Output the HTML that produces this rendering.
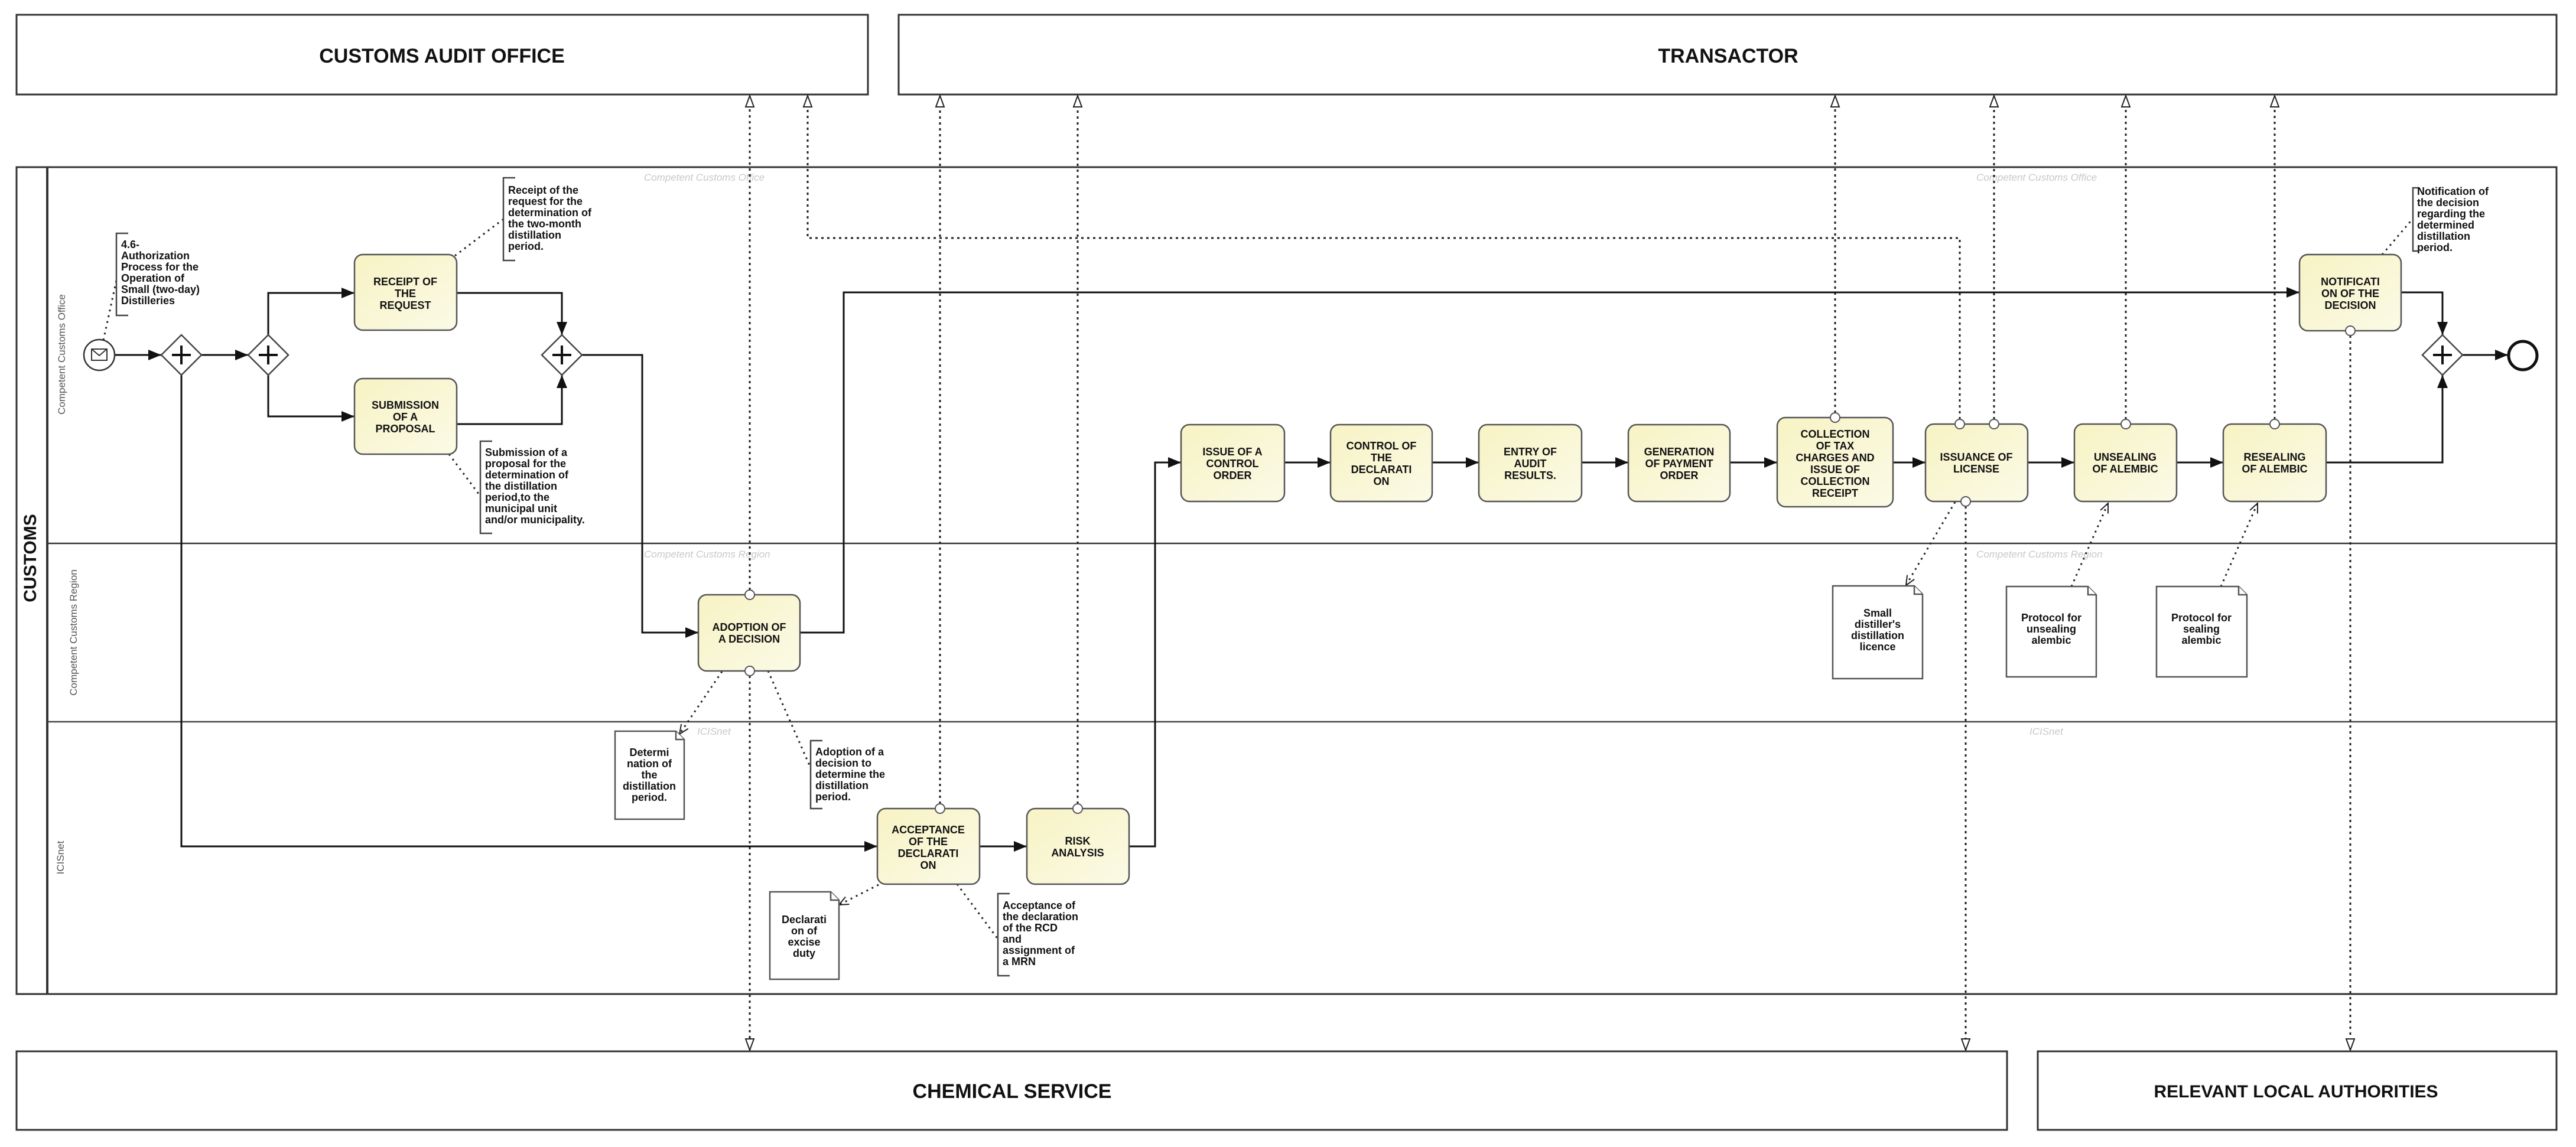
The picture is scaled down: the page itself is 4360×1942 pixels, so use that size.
<!DOCTYPE html>
<html><head><meta charset="utf-8"><style>
html,body{margin:0;padding:0;background:#fff;}
svg{display:block;}
text{font-family:"Liberation Sans",sans-serif;}
.t{font-size:18px;font-weight:bold;fill:#111;text-anchor:middle;}
.a{font-size:18px;font-weight:bold;fill:#111;}
.d{font-size:18px;font-weight:bold;fill:#111;text-anchor:middle;}
.h{font-size:34px;font-weight:bold;fill:#111;text-anchor:middle;}
.w{font-size:17px;font-style:italic;fill:#c8c8c8;}
.flow{stroke:#111;stroke-width:3;fill:none;}
.msg{stroke:#222;stroke-width:3;fill:none;stroke-dasharray:4 6;}
.asc{stroke:#222;stroke-width:3;fill:none;stroke-dasharray:3 7;}
.task{fill:url(#g);stroke:#555;stroke-width:2.5;}
.doc{fill:#fff;stroke:#555;stroke-width:2.5;}
</style></head><body>
<svg width="4360" height="1942" viewBox="0 0 4360 1942" xmlns="http://www.w3.org/2000/svg">
<defs>
<linearGradient id="g" x1="0" y1="0" x2="1" y2="1"><stop offset="0" stop-color="#f7f3c4"/><stop offset="1" stop-color="#fbfae6"/></linearGradient>
<marker id="ar" markerUnits="userSpaceOnUse" markerWidth="24" markerHeight="20" refX="22" refY="10" orient="auto"><path d="M0,1 L22,10 L0,19 Z" fill="#111"/></marker>
<marker id="mh" markerUnits="userSpaceOnUse" markerWidth="22" markerHeight="18" refX="20" refY="9" orient="auto"><path d="M1,2 L20,9 L1,16 Z" fill="#fff" stroke="#222" stroke-width="2"/></marker>
<marker id="oa" markerUnits="userSpaceOnUse" markerWidth="20" markerHeight="18" refX="18" refY="9" orient="auto"><path d="M2,2 L18,9 L2,16" fill="none" stroke="#222" stroke-width="2"/></marker>
</defs>

<!-- external pools -->
<rect x="28" y="25" width="1441" height="135" fill="#fff" stroke="#333" stroke-width="3"/>
<text class="h" x="748" y="106">CUSTOMS AUDIT OFFICE</text>
<rect x="1521" y="25" width="2806" height="135" fill="#fff" stroke="#333" stroke-width="3"/>
<text class="h" x="2925" y="106">TRANSACTOR</text>
<rect x="28" y="1780" width="3369" height="133" fill="#fff" stroke="#333" stroke-width="3"/>
<text class="h" x="1713" y="1859">CHEMICAL SERVICE</text>
<rect x="3449" y="1780" width="878" height="133" fill="#fff" stroke="#333" stroke-width="3"/>
<text class="h" x="3886" y="1858" style="font-size:30px">RELEVANT LOCAL AUTHORITIES</text>

<!-- main pool -->
<rect x="28" y="283" width="4299" height="1400" fill="#fff" stroke="#333" stroke-width="3"/>
<line x1="80" y1="283" x2="80" y2="1683" stroke="#333" stroke-width="4"/>
<line x1="80" y1="920" x2="4327" y2="920" stroke="#333" stroke-width="2.5"/>
<line x1="80" y1="1222" x2="4327" y2="1222" stroke="#444" stroke-width="2.5"/>
<text transform="translate(61,945) rotate(-90)" style="font-size:30px;font-weight:bold;fill:#111;text-anchor:middle">CUSTOMS</text>
<text transform="translate(110,600) rotate(-90)" style="font-size:17px;fill:#555;text-anchor:middle">Competent Customs Office</text>
<text transform="translate(130,1071) rotate(-90)" style="font-size:17px;fill:#555;text-anchor:middle">Competent Customs Region</text>
<text transform="translate(108,1452) rotate(-90)" style="font-size:17px;fill:#555;text-anchor:middle">ICISnet</text>
<text class="w" x="1090" y="306">Competent Customs Office</text>
<text class="w" x="3345" y="306">Competent Customs Office</text>
<text class="w" x="1090" y="944">Competent Customs Region</text>
<text class="w" x="3345" y="944">Competent Customs Region</text>
<text class="w" x="1180" y="1244">ICISnet</text>
<text class="w" x="3435" y="1244">ICISnet</text>

<!-- message flows -->
<path class="msg" d="M1269,999 V162" marker-end="url(#mh)"/>
<path class="msg" d="M1269,1144 V1778" marker-end="url(#mh)"/>
<path class="msg" d="M3317,710 V403 H1367 V162" marker-end="url(#mh)"/>
<path class="msg" d="M1591,1361 V162" marker-end="url(#mh)"/>
<path class="msg" d="M1824,1361 V162" marker-end="url(#mh)"/>
<path class="msg" d="M3106,699 V162" marker-end="url(#mh)"/>
<path class="msg" d="M3375,710 V162" marker-end="url(#mh)"/>
<path class="msg" d="M3598,710 V162" marker-end="url(#mh)"/>
<path class="msg" d="M3850,710 V162" marker-end="url(#mh)"/>
<path class="msg" d="M3327,857 V1778" marker-end="url(#mh)"/>
<path class="msg" d="M3978,568 V1778" marker-end="url(#mh)"/>

<!-- sequence flows -->
<path class="flow" d="M194,601 H273" marker-end="url(#ar)"/>
<path class="flow" d="M341,601 H420" marker-end="url(#ar)"/>
<path class="flow" d="M454,567 V496 H600" marker-end="url(#ar)"/>
<path class="flow" d="M454,635 V705 H600" marker-end="url(#ar)"/>
<path class="flow" d="M773,496 H951 V567" marker-end="url(#ar)"/>
<path class="flow" d="M773,718 H951 V635" marker-end="url(#ar)"/>
<path class="flow" d="M985,601 H1087 V1071 H1182" marker-end="url(#ar)"/>
<path class="flow" d="M1354,1071 H1428 V495 H3892" marker-end="url(#ar)"/>
<path class="flow" d="M307,635 V1433 H1485" marker-end="url(#ar)"/>
<path class="flow" d="M1658,1433 H1738" marker-end="url(#ar)"/>
<path class="flow" d="M1911,1433 H1955 V783 H1999" marker-end="url(#ar)"/>
<path class="flow" d="M2174,783 H2252" marker-end="url(#ar)"/>
<path class="flow" d="M2424,783 H2503" marker-end="url(#ar)"/>
<path class="flow" d="M2677,783 H2756" marker-end="url(#ar)"/>
<path class="flow" d="M2928,783 H3008" marker-end="url(#ar)"/>
<path class="flow" d="M3204,783 H3259" marker-end="url(#ar)"/>
<path class="flow" d="M3432,783 H3511" marker-end="url(#ar)"/>
<path class="flow" d="M3684,783 H3763" marker-end="url(#ar)"/>
<path class="flow" d="M3937,783 H4134 V635" marker-end="url(#ar)"/>
<path class="flow" d="M4064,495 H4134 V567" marker-end="url(#ar)"/>
<path class="flow" d="M4168,601 H4245" marker-end="url(#ar)"/>

<!-- associations -->
<path class="asc" d="M175,576 L198,470"/>
<path class="asc" d="M770,433 L852,371"/>
<path class="asc" d="M760,769 L813,840"/>
<path class="asc" d="M1300,1136 L1372,1300"/>
<path class="asc" d="M1620,1497 L1689,1590"/>
<path class="asc" d="M4032,431 L4084,370"/>
<path class="asc" d="M1222,1137 L1150,1243" marker-end="url(#oa)"/>
<path class="asc" d="M1487,1498 L1420,1532" marker-end="url(#oa)"/>
<path class="asc" d="M3309,850 L3226,991" marker-end="url(#oa)"/>
<path class="asc" d="M3506,993 L3568,852" marker-end="url(#oa)"/>
<path class="asc" d="M3759,993 L3821,852" marker-end="url(#oa)"/>

<!-- start / gateways / end -->
<circle cx="168" cy="601" r="26" fill="#fff" stroke="#333" stroke-width="2.5"/>
<rect x="155" y="591" width="26" height="19" fill="#fff" stroke="#333" stroke-width="2"/>
<path d="M155,591 L168,602 L181,591" fill="none" stroke="#333" stroke-width="2"/>
<g fill="#fff" stroke="#444" stroke-width="2.5">
<path d="M307,567 L341,601 L307,635 L273,601 Z"/>
<path d="M454,567 L488,601 L454,635 L420,601 Z"/>
<path d="M951,567 L985,601 L951,635 L917,601 Z"/>
<path d="M4134,567 L4168,601 L4134,635 L4100,601 Z"/>
</g>
<g stroke="#111" stroke-width="4">
<path d="M307,585 V617 M291,601 H323"/>
<path d="M454,585 V617 M438,601 H470"/>
<path d="M951,585 V617 M935,601 H967"/>
<path d="M4134,585 V617 M4118,601 H4150"/>
</g>
<circle cx="4270" cy="602" r="24" fill="#fff" stroke="#111" stroke-width="5"/>

<!-- tasks -->
<rect class="task" x="600" y="431" width="173" height="128" rx="14"/>
<text class="t" x="686" y="483">RECEIPT OF</text><text class="t" x="686" y="503">THE</text><text class="t" x="686" y="523">REQUEST</text>
<rect class="task" x="600" y="641" width="173" height="128" rx="14"/>
<text class="t" x="686" y="692">SUBMISSION</text><text class="t" x="686" y="712">OF A</text><text class="t" x="686" y="732">PROPOSAL</text>
<rect class="task" x="1182" y="1007" width="172" height="129" rx="14"/>
<text class="t" x="1268" y="1068">ADOPTION OF</text><text class="t" x="1268" y="1088">A DECISION</text>
<rect class="task" x="1485" y="1369" width="173" height="128" rx="14"/>
<text class="t" x="1571" y="1411">ACCEPTANCE</text><text class="t" x="1571" y="1431">OF THE</text><text class="t" x="1571" y="1451">DECLARATI</text><text class="t" x="1571" y="1471">ON</text>
<rect class="task" x="1738" y="1369" width="173" height="128" rx="14"/>
<text class="t" x="1824" y="1430">RISK</text><text class="t" x="1824" y="1450">ANALYSIS</text>
<rect class="task" x="1999" y="719" width="175" height="130" rx="14"/>
<text class="t" x="2086" y="771">ISSUE OF A</text><text class="t" x="2086" y="791">CONTROL</text><text class="t" x="2086" y="811">ORDER</text>
<rect class="task" x="2252" y="719" width="172" height="130" rx="14"/>
<text class="t" x="2338" y="761">CONTROL OF</text><text class="t" x="2338" y="781">THE</text><text class="t" x="2338" y="801">DECLARATI</text><text class="t" x="2338" y="821">ON</text>
<rect class="task" x="2503" y="719" width="174" height="130" rx="14"/>
<text class="t" x="2590" y="771">ENTRY OF</text><text class="t" x="2590" y="791">AUDIT</text><text class="t" x="2590" y="811">RESULTS.</text>
<rect class="task" x="2756" y="719" width="172" height="130" rx="14"/>
<text class="t" x="2842" y="771">GENERATION</text><text class="t" x="2842" y="791">OF PAYMENT</text><text class="t" x="2842" y="811">ORDER</text>
<rect class="task" x="3008" y="707" width="196" height="151" rx="14"/>
<text class="t" x="3106" y="741">COLLECTION</text><text class="t" x="3106" y="761">OF TAX</text><text class="t" x="3106" y="781">CHARGES AND</text><text class="t" x="3106" y="801">ISSUE OF</text><text class="t" x="3106" y="821">COLLECTION</text><text class="t" x="3106" y="841">RECEIPT</text>
<rect class="task" x="3259" y="718" width="173" height="131" rx="14"/>
<text class="t" x="3345" y="780">ISSUANCE OF</text><text class="t" x="3345" y="800">LICENSE</text>
<rect class="task" x="3511" y="718" width="173" height="131" rx="14"/>
<text class="t" x="3597" y="780">UNSEALING</text><text class="t" x="3597" y="800">OF ALEMBIC</text>
<rect class="task" x="3763" y="718" width="174" height="131" rx="14"/>
<text class="t" x="3850" y="780">RESEALING</text><text class="t" x="3850" y="800">OF ALEMBIC</text>
<rect class="task" x="3892" y="431" width="172" height="129" rx="14"/>
<text class="t" x="3978" y="483">NOTIFICATI</text><text class="t" x="3978" y="503">ON OF THE</text><text class="t" x="3978" y="523">DECISION</text>

<!-- message source circles -->
<g fill="#fff" stroke="#555" stroke-width="2">
<circle cx="1269" cy="1007" r="8"/><circle cx="1269" cy="1136" r="8"/>
<circle cx="1591" cy="1369" r="8"/><circle cx="1824" cy="1369" r="8"/>
<circle cx="3106" cy="707" r="8"/>
<circle cx="3317" cy="718" r="8"/><circle cx="3375" cy="718" r="8"/><circle cx="3327" cy="849" r="8"/>
<circle cx="3598" cy="718" r="8"/><circle cx="3850" cy="718" r="8"/>
<circle cx="3978" cy="560" r="8"/>
</g>

<!-- data objects -->
<g>
<path class="doc" d="M1041,1238 H1144 L1158,1252 V1387 H1041 Z"/><path class="doc" d="M1144,1238 V1252 H1158"/>
<text class="d" x="1099" y="1280">Determi</text><text class="d" x="1099" y="1299">nation of</text><text class="d" x="1099" y="1318">the</text><text class="d" x="1099" y="1337">distillation</text><text class="d" x="1099" y="1356">period.</text>
<path class="doc" d="M1303,1510 H1406 L1420,1524 V1658 H1303 Z"/><path class="doc" d="M1406,1510 V1524 H1420"/>
<text class="d" x="1361" y="1563">Declarati</text><text class="d" x="1361" y="1582">on of</text><text class="d" x="1361" y="1601">excise</text><text class="d" x="1361" y="1620">duty</text>
<path class="doc" d="M3102,992 H3240 L3254,1006 V1149 H3102 Z"/><path class="doc" d="M3240,992 V1006 H3254"/>
<text class="d" x="3178" y="1044">Small</text><text class="d" x="3178" y="1063">distiller's</text><text class="d" x="3178" y="1082">distillation</text><text class="d" x="3178" y="1101">licence</text>
<path class="doc" d="M3396,993 H3534 L3548,1007 V1146 H3396 Z"/><path class="doc" d="M3534,993 V1007 H3548"/>
<text class="d" x="3472" y="1052">Protocol for</text><text class="d" x="3472" y="1071">unsealing</text><text class="d" x="3472" y="1090">alembic</text>
<path class="doc" d="M3650,993 H3789 L3803,1007 V1146 H3650 Z"/><path class="doc" d="M3789,993 V1007 H3803"/>
<text class="d" x="3726" y="1052">Protocol for</text><text class="d" x="3726" y="1071">sealing</text><text class="d" x="3726" y="1090">alembic</text>
</g>

<!-- annotations -->
<g fill="none" stroke="#444" stroke-width="2.5">
<path d="M217,395 H197 V534 H217"/>
<path d="M872,301 H852 V441 H872"/>
<path d="M833,747 H813 V903 H833"/>
<path d="M1392,1254 H1372 V1369 H1392"/>
<path d="M1709,1513 H1689 V1652 H1709"/>
<path d="M4094,318 H4084 V425 H4094"/>
</g>
<g class="a">
<text class="a" x="205" y="420">4.6-</text><text class="a" x="205" y="439">Authorization</text><text class="a" x="205" y="458">Process for the</text><text class="a" x="205" y="477">Operation of</text><text class="a" x="205" y="496">Small (two-day)</text><text class="a" x="205" y="515">Distilleries</text>
<text class="a" x="860" y="328">Receipt of the</text><text class="a" x="860" y="347">request for the</text><text class="a" x="860" y="366">determination of</text><text class="a" x="860" y="385">the two-month</text><text class="a" x="860" y="404">distillation</text><text class="a" x="860" y="423">period.</text>
<text class="a" x="821" y="772">Submission of a</text><text class="a" x="821" y="791">proposal for the</text><text class="a" x="821" y="810">determination of</text><text class="a" x="821" y="829">the distillation</text><text class="a" x="821" y="848">period,to the</text><text class="a" x="821" y="867">municipal unit</text><text class="a" x="821" y="886">and/or municipality.</text>
<text class="a" x="1380" y="1279">Adoption of a</text><text class="a" x="1380" y="1298">decision to</text><text class="a" x="1380" y="1317">determine the</text><text class="a" x="1380" y="1336">distillation</text><text class="a" x="1380" y="1355">period.</text>
<text class="a" x="1697" y="1539">Acceptance of</text><text class="a" x="1697" y="1558">the declaration</text><text class="a" x="1697" y="1577">of the RCD</text><text class="a" x="1697" y="1596">and</text><text class="a" x="1697" y="1615">assignment of</text><text class="a" x="1697" y="1634">a MRN</text>
<text class="a" x="4091" y="330">Notification of</text><text class="a" x="4091" y="349">the decision</text><text class="a" x="4091" y="368">regarding the</text><text class="a" x="4091" y="387">determined</text><text class="a" x="4091" y="406">distillation</text><text class="a" x="4091" y="425">period.</text>
</g>
</svg>
</body></html>
